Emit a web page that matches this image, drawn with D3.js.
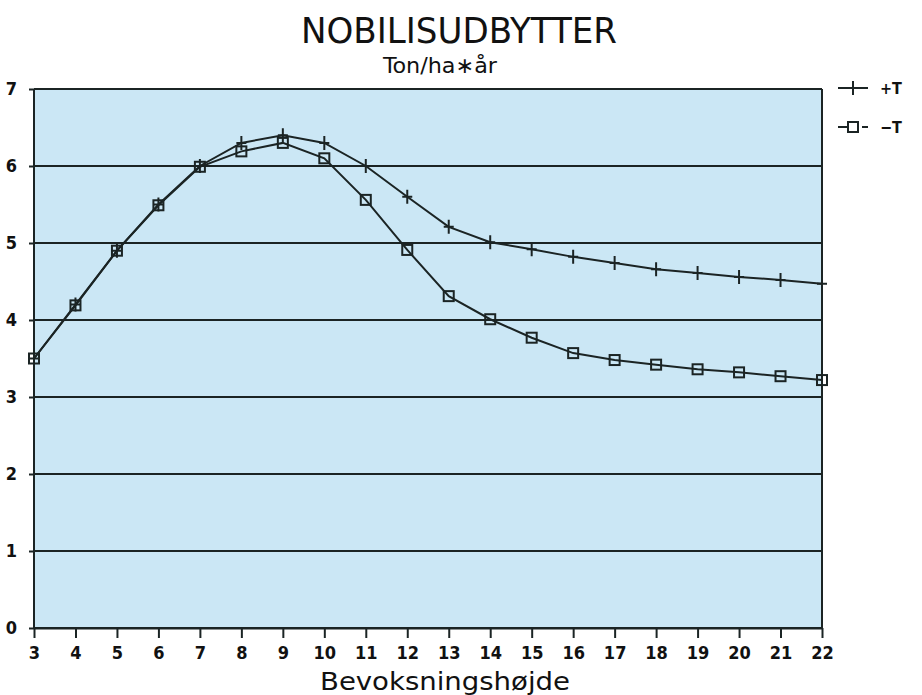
<!DOCTYPE html>
<html>
<head>
<meta charset="utf-8">
<script src="https://cdn.jsdelivr.net/npm/d3@7"></script>
<style>
body { margin: 0; background: #fff; }
text { font-family: "DejaVu Sans Condensed", "DejaVu Sans", sans-serif; fill: #111; }
</style>
</head>
<body>
<svg width="922" height="695"></svg>
<script>
var svg = d3.select("svg"),
    width = +svg.attr("width"),
    height = +svg.attr("height");

// data
var heights = [3, 4, 5, 6, 7, 8, 9, 10, 11, 12, 13, 14, 15, 16, 17, 18, 19, 20, 21, 22];
var plusT  = [3.5, 4.2, 4.9, 5.5, 6.0, 6.3, 6.4, 6.3, 6.0, 5.6, 5.21, 5.01, 4.92, 4.82, 4.74, 4.66, 4.61, 4.56, 4.52, 4.47];
var minusT = [3.5, 4.19, 4.9, 5.49, 5.99, 6.19, 6.3, 6.1, 5.56, 4.91, 4.31, 4.01, 3.77, 3.57, 3.48, 3.42, 3.36, 3.32, 3.27, 3.22];
var yTicks = [0, 1, 2, 3, 4, 5, 6, 7];
var seriesNames = ["+T", "\u2212T"];

// plot box (note: "top" is reserved on window, so use plotTop)
var plotLeft = 34, plotRight = 822, plotTop = 89, plotBottom = 628;

var x = d3.scaleLinear().domain([3, 22]).range([plotLeft, plotRight]);
var y = d3.scaleLinear().domain([0, 7]).range([plotBottom, plotTop]);

var ink = "#1b2424";

// plot background
svg.append("rect")
  .attr("x", plotLeft).attr("y", plotTop)
  .attr("width", plotRight - plotLeft).attr("height", plotBottom - plotTop)
  .attr("fill", "#cbe7f5");

// horizontal grid
svg.append("g").selectAll("line")
  .data(yTicks)
  .enter().append("line")
    .attr("x1", plotLeft).attr("x2", plotRight)
    .attr("y1", function(d) { return y(d); })
    .attr("y2", function(d) { return y(d); })
    .attr("stroke", ink).attr("stroke-width", 2);

// frame sides
svg.append("line").attr("x1", plotLeft).attr("x2", plotLeft).attr("y1", plotTop).attr("y2", plotBottom)
  .attr("stroke", ink).attr("stroke-width", 2);
svg.append("line").attr("x1", plotRight).attr("x2", plotRight).attr("y1", plotTop).attr("y2", plotBottom)
  .attr("stroke", ink).attr("stroke-width", 2);

// x axis
var xAxis = svg.append("g")
  .attr("transform", "translate(0," + plotBottom + ")")
  .call(d3.axisBottom(x).tickValues(heights).tickFormat(d3.format("d"))
    .tickSize(10).tickSizeOuter(0).tickPadding(8));
xAxis.select(".domain").attr("stroke", ink).attr("stroke-width", 2);
xAxis.selectAll(".tick line").attr("stroke", ink).attr("stroke-width", 2);
xAxis.selectAll(".tick text")
  .style("font-size", "18px").style("font-weight", "bold").attr("fill", "#111");

// y axis
var yAxis = svg.append("g")
  .attr("transform", "translate(" + plotLeft + ",0)")
  .call(d3.axisLeft(y).tickValues(yTicks).tickFormat(d3.format("d"))
    .tickSize(5).tickSizeOuter(0).tickPadding(12));
yAxis.select(".domain").remove();
yAxis.selectAll(".tick line").attr("stroke", ink).attr("stroke-width", 2);
yAxis.selectAll(".tick text")
  .style("font-size", "18px").style("font-weight", "bold").attr("fill", "#111");

// lines
var line = d3.line()
  .x(function(d) { return x(d[0]); })
  .y(function(d) { return y(d[1]); });

var plusData = heights.map(function(h, i) { return [h, plusT[i]]; });
var minusData = heights.map(function(h, i) { return [h, minusT[i]]; });

svg.append("path").datum(plusData).attr("d", line)
  .attr("fill", "none").attr("stroke", ink).attr("stroke-width", 2);
svg.append("path").datum(minusData).attr("d", line)
  .attr("fill", "none").attr("stroke", ink).attr("stroke-width", 2);

// + markers
svg.append("g").selectAll("path")
  .data(plusData)
  .enter().append("path")
    .attr("d", function(d) {
      var cx = x(d[0]), cy = y(d[1]);
      return "M" + (cx - 5) + "," + cy + "H" + (cx + 5) + "M" + cx + "," + (cy - 7) + "V" + (cy + 7);
    })
    .attr("stroke", ink).attr("stroke-width", 2);

// square markers
svg.append("g").selectAll("rect")
  .data(minusData)
  .enter().append("rect")
    .attr("x", function(d) { return x(d[0]) - 5; })
    .attr("y", function(d) { return y(d[1]) - 5; })
    .attr("width", 10).attr("height", 10)
    .attr("fill", "none").attr("stroke", ink).attr("stroke-width", 2);

// legend
var legend = svg.append("g");
legend.append("line").attr("x1", 838).attr("x2", 868).attr("y1", 88).attr("y2", 88)
  .attr("stroke", ink).attr("stroke-width", 2);
legend.append("path").attr("d", "M853,81V95").attr("stroke", ink).attr("stroke-width", 2);
legend.append("line").attr("x1", 838).attr("x2", 868).attr("y1", 127).attr("y2", 127)
  .attr("stroke", ink).attr("stroke-width", 2).attr("stroke-dasharray", "14,4,2,4,6");
legend.append("rect").attr("x", 848).attr("y", 122).attr("width", 10).attr("height", 10)
  .attr("fill", "#fff").attr("stroke", ink).attr("stroke-width", 2);
legend.selectAll("text")
  .data(seriesNames)
  .enter().append("text")
    .attr("x", 880)
    .attr("y", function(d, i) { return 94 + i * 39; })
    .style("font-size", "16px").style("font-weight", "bold")
    .text(function(d) { return d; });

// titles
svg.append("text")
  .attr("x", 459).attr("y", 43)
  .attr("text-anchor", "middle")
  .attr("textLength", 316).attr("lengthAdjust", "spacingAndGlyphs")
  .style("font-size", "36px").style("font-weight", "200")
  .style("font-family", "'DejaVu Sans Condensed', 'DejaVu Sans', sans-serif")
  .text("NOBILISUDBYTTER");

svg.append("text")
  .attr("x", 440).attr("y", 73)
  .attr("text-anchor", "middle")
  .attr("textLength", 114).attr("lengthAdjust", "spacingAndGlyphs")
  .style("font-size", "22px")
  .text("Ton/ha\u2217\u00e5r");

svg.append("text")
  .attr("x", 445).attr("y", 690)
  .attr("text-anchor", "middle")
  .attr("textLength", 250).attr("lengthAdjust", "spacingAndGlyphs")
  .style("font-size", "24px")
  .text("Bevoksningshøjde");
</script>
</body>
</html>
